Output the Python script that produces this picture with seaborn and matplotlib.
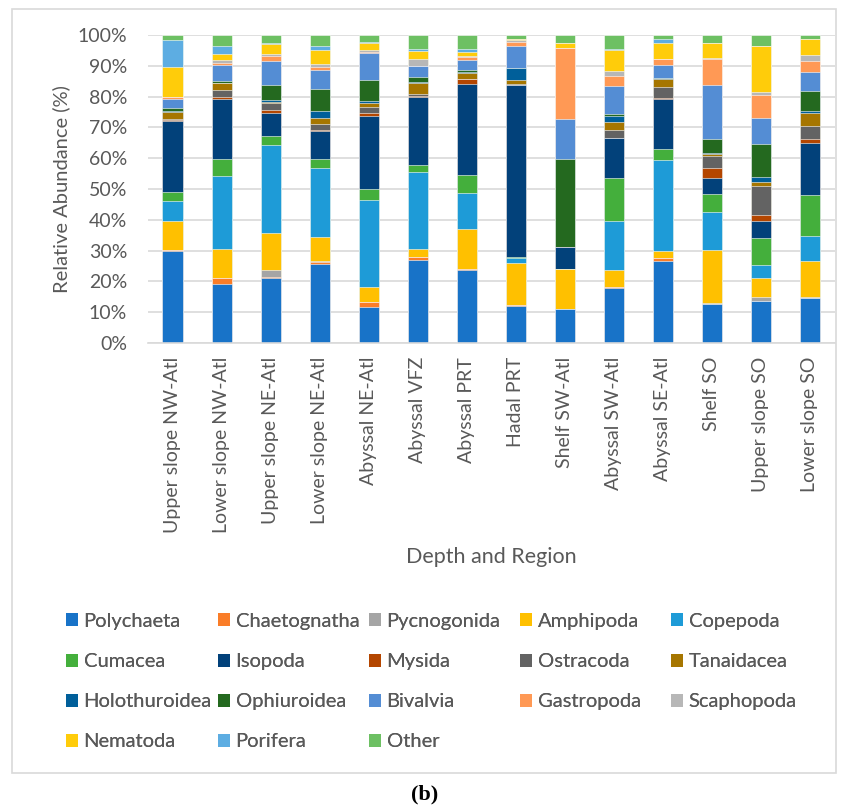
import numpy as np
import pandas as pd
import matplotlib
matplotlib.use("Agg")
import matplotlib.pyplot as plt
import seaborn as sns
from matplotlib.patches import Patch, Rectangle

regions = ["Upper slope NW-Atl", "Lower slope NW-Atl", "Upper slope NE-Atl",
           "Lower slope NE-Atl", "Abyssal NE-Atl", "Abyssal VFZ", "Abyssal PRT",
           "Hadal PRT", "Shelf SW-Atl", "Abyssal SW-Atl", "Abyssal SE-Atl",
           "Shelf SO", "Upper slope SO", "Lower slope SO"]

taxa = ["Polychaeta", "Chaetognatha", "Pycnogonida", "Amphipoda", "Copepoda",
        "Cumacea", "Isopoda", "Mysida", "Ostracoda", "Tanaidacea",
        "Holothuroidea", "Ophiuroidea", "Bivalvia", "Gastropoda", "Scaphopoda",
        "Nematoda", "Porifera", "Other"]

colors = ["#1873C8", "#FA7D28", "#A5A5A5", "#FFC000", "#1E9BD7",
          "#44AF3C", "#02417A", "#B44600", "#636363", "#A67600",
          "#005F9A", "#24691F", "#548DD4", "#FF9955", "#B7B7B7",
          "#FFCC0A", "#5DADE2", "#6DC063"]

polychaeta    = [29.4, 19.2, 21.1, 25.7, 11.8, 26.9, 23.7, 12.1, 11.1, 17.9, 26.4, 12.5, 13.7, 14.6]
chaetognatha  = [0.5, 1.8, 0.4, 0.6, 1.4, 0.9, 0.2, 0.3, 0.0, 0.3, 1.0, 0.0, 0.0, 0.0]
pycnogonida   = [0.0, 0.0, 2.1, 0.3, 0.0, 0.0, 0.0, 0.0, 0.0, 0.0, 0.0, 0.3, 1.3, 0.4]
amphipoda     = [9.4, 9.4, 12.2, 7.9, 4.9, 2.8, 13.0, 13.3, 12.9, 5.5, 2.4, 17.3, 5.9, 11.5]
copepoda      = [6.3, 23.7, 28.2, 22.3, 28.2, 24.8, 11.5, 1.8, 0.0, 15.6, 29.5, 12.2, 4.3, 8.2]
cumacea       = [2.9, 5.4, 3.2, 2.9, 3.5, 2.2, 6.1, 0.4, 0.0, 13.9, 3.4, 5.7, 8.8, 13.0]
isopoda       = [22.8, 19.5, 7.4, 9.1, 23.8, 22.1, 29.4, 55.6, 7.1, 13.1, 16.3, 5.3, 5.4, 17.1]
mysida        = [0.3, 0.5, 0.9, 0.3, 1.0, 0.3, 1.5, 0.0, 0.0, 0.0, 0.4, 3.2, 1.9, 1.3]
ostracoda     = [0.4, 2.4, 2.2, 1.7, 1.9, 0.9, 0.2, 0.2, 0.0, 2.6, 3.4, 3.8, 9.4, 4.2]
tanaidacea    = [2.3, 2.4, 0.5, 2.1, 1.2, 3.4, 1.8, 1.3, 0.0, 2.6, 2.6, 0.6, 1.4, 4.0]
holothuroidea = [0.2, 0.0, 0.4, 2.2, 0.6, 0.5, 0.4, 4.0, 0.0, 1.7, 0.3, 0.4, 1.7, 0.6]
ophiuroidea   = [0.8, 0.4, 5.0, 7.1, 6.8, 1.5, 0.5, 0.0, 28.5, 0.8, 0.0, 4.5, 10.5, 6.7]
bivalvia      = [3.0, 5.4, 7.8, 6.2, 8.8, 3.5, 3.4, 7.0, 12.9, 9.1, 4.4, 17.4, 8.3, 5.9]
gastropoda    = [0.8, 0.4, 1.5, 1.0, 0.4, 0.0, 0.8, 1.4, 23.0, 3.2, 1.8, 8.3, 7.7, 3.8]
scaphopoda    = [0.0, 1.2, 0.8, 1.0, 0.8, 2.2, 0.3, 0.4, 0.0, 1.5, 0.0, 0.4, 0.9, 1.8]
nematoda      = [9.6, 1.7, 3.2, 4.4, 2.1, 2.7, 1.5, 0.4, 1.4, 6.7, 5.2, 4.8, 14.7, 5.1]
porifera      = [8.6, 2.8, 0.4, 1.4, 0.3, 0.8, 0.8, 0.0, 0.0, 0.4, 1.2, 0.0, 0.0, 0.0]
other         = [1.6, 3.5, 2.5, 3.6, 2.3, 4.4, 4.6, 1.3, 2.7, 4.6, 1.4, 2.7, 3.7, 1.4]

series = [polychaeta, chaetognatha, pycnogonida, amphipoda, copepoda, cumacea,
          isopoda, mysida, ostracoda, tanaidacea, holothuroidea, ophiuroidea,
          bivalvia, gastropoda, scaphopoda, nematoda, porifera, other]

sns.set_theme(style="white")
FONT = ["Lato", "DejaVu Sans"]
plt.rcParams['font.family'] = FONT
TXT = "#595959"

df = pd.DataFrame(np.array(series).T, columns=taxa, index=regions)
pct = df.div(df.sum(axis=1), axis=0) * 100  # 100% stacked
cum = pct.cumsum(axis=1)

fig = plt.figure(figsize=(8.49, 8.08), dpi=100)
W, H = 849, 808
ax = fig.add_axes([148 / W, 1 - 343 / H, (834.5 - 148) / W, (343 - 35) / H])

for i in range(len(taxa) - 1, -1, -1):
    sns.barplot(x=regions, y=cum[taxa[i]].values, order=regions, color=colors[i],
                saturation=1, width=0.41, edgecolor="white", linewidth=0.4, ax=ax)

ax.set_ylim(0, 100)
ax.set_xlim(-0.5, len(regions) - 0.5)
ax.set_yticks(np.arange(0, 101, 10))
ax.set_yticklabels([f"{v}%" for v in range(0, 101, 10)])
ax.yaxis.grid(True, color="#d9d9d9", linewidth=1.2)
ax.set_axisbelow(True)
for s in ["top", "right", "left"]:
    ax.spines[s].set_visible(False)
ax.spines["bottom"].set_color("#d9d9d9")
ax.spines["bottom"].set_linewidth(1.2)
ax.tick_params(axis="y", length=0, pad=15, labelsize=14, labelcolor=TXT)
ax.tick_params(axis="x", length=0, pad=10, labelsize=14, labelcolor=TXT)
plt.setp(ax.get_xticklabels(), rotation=90, ha="center", va="top")
ax.set_xlabel("Depth and Region", fontsize=15.5, color=TXT)
ax.xaxis.set_label_coords((491 - 148) / (834.5 - 148), -(547 - 343) / (343 - 35))
ax.set_ylabel("Relative Abundance (%)", fontsize=14.5, color=TXT)
ax.yaxis.set_label_coords(-(148 - 70) / (834.5 - 148), 0.5)

# legend: 5 columns, each its own legend at fixed x positions
col_x = [66, 218, 369, 520, 671]
for c in range(5):
    idx = list(range(c, len(taxa), 5))
    handles = [Patch(facecolor=colors[k], edgecolor="none") for k in idx]
    labels = [taxa[k] for k in idx]
    leg = fig.legend(handles, labels, loc="upper left",
                     bbox_to_anchor=(col_x[c] / W, 1 - 613 / H),
                     frameon=False, fontsize=14.5, labelcolor=TXT,
                     handlelength=0.62, handleheight=0.62, handletextpad=0.25,
                     labelspacing=1.15, borderpad=0, borderaxespad=0)
    fig.add_artist(leg)

fig.patches.append(Rectangle((12 / W, 1 - 773 / H), (836 - 12) / W, (773 - 9) / H,
                             transform=fig.transFigure, fill=False,
                             edgecolor="#d9d9d9", linewidth=1.2))

fig.text(425 / W, 1 - 794 / H, "(b)", ha="center", va="center",
         fontsize=16, family=["Liberation Serif", "DejaVu Serif"], fontweight="bold",
         color="black")

fig.savefig("out.png", dpi=100)
